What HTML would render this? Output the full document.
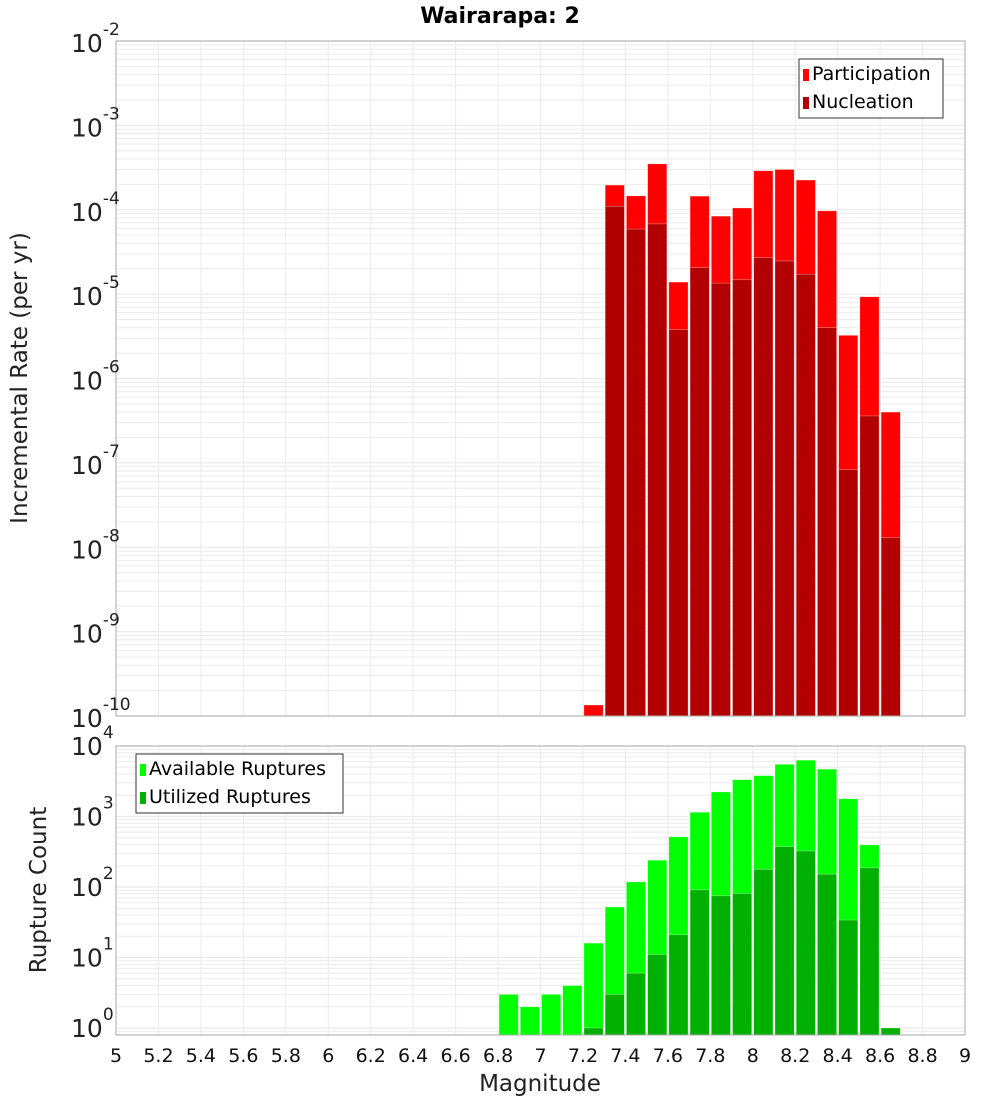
<!DOCTYPE html>
<html><head><meta charset="utf-8"><style>
body{margin:0;background:#fff;font-family:"Liberation Sans","DejaVu Sans",sans-serif}
svg text{font-family:"DejaVu Sans","Liberation Sans",sans-serif}
</style></head><body>
<svg id="c" width="1000" height="1100" xmlns="http://www.w3.org/2000/svg"></svg>
<script>
const topBins=[7.25,7.35,7.45,7.55,7.65,7.75,7.85,7.95,8.05,8.15,8.25,8.35,8.45,8.55,8.65];
const participation=[1.35e-10,1.96e-4,1.46e-4,3.5e-4,1.39e-5,1.45e-4,8.4e-5,1.05e-4,2.9e-4,3.0e-4,2.25e-4,9.7e-5,3.25e-6,9.3e-6,4.0e-7];
const nucleation=[0,1.1e-4,5.9e-5,6.8e-5,3.8e-6,2.06e-5,1.35e-5,1.48e-5,2.7e-5,2.47e-5,1.72e-5,4.0e-6,8.3e-8,3.6e-7,1.3e-8];
const availBins=[6.85,6.95,7.05,7.15,7.25,7.35,7.45,7.55,7.65,7.75,7.85,7.95,8.05,8.15,8.25,8.35,8.45,8.55];
const available=[3,2,3,4,16,52,118,240,515,1150,2230,3330,3800,5500,6300,4700,1780,395];
const utilBins=[7.25,7.35,7.45,7.55,7.65,7.75,7.85,7.95,8.05,8.15,8.25,8.35,8.45,8.55,8.65];
const utilized=[1,3,6,11,21,91,75,81,178,373,324,152,34,187,1];
const xTicks=[5,5.2,5.4,5.6,5.8,6,6.2,6.4,6.6,6.8,7,7.2,7.4,7.6,7.8,8,8.2,8.4,8.6,8.8,9];
const topExp=[-2,-3,-4,-5,-6,-7,-8,-9,-10];
const botExp=[0,1,2,3,4];

const svg=document.getElementById('c');const NS='http://www.w3.org/2000/svg';
function el(t,a,p){const e=document.createElementNS(NS,t);for(const k in a)e.setAttribute(k,a[k]);(p||svg).appendChild(e);return e;}
const L=116,R=965;
const X=v=>L+(v-5)/4*(R-L);
const T0=41,T1=716;const YT=v=>T0+(-2-Math.log10(v))/8*(T1-T0);
const B0=746,B1=1035,BZ=1028;const YB=v=>BZ-Math.log10(v)*70.5;
const BW=(R-L)/40;

function grid(y0,y1,logFn,eMin,eMax){
  for(let e=eMin;e<eMax;e++)for(let m=1;m<10;m++){const y=logFn(m*Math.pow(10,e));if(y>=y0&&y<=y1){const g=el('line',{x1:L,x2:R,y1:y,y2:y,stroke:'#ebebeb','stroke-width':m==1?1.2:1});}}
  xTicks.forEach(t=>{const g=el('line',{x1:X(t),x2:X(t),y1:y0,y2:y1,stroke:'#ebebeb'});});
}
grid(T0,T1,YT,-10,-1);
grid(B0,B1,YB,-1,5);

function bars(bins,vals,fn,color,name){
  bins.forEach((b,i)=>{if(vals[i]<=0)return;const y=fn(vals[i]);const base=name.startsWith('p')||name.startsWith('n')?T1:B1;
    const r=el('rect',{x:X(b)-BW/2+1,y:y,width:BW-2,height:base-y,fill:color,stroke:'#fff','stroke-opacity':0.5,'stroke-width':0.6});
    });
}
bars(topBins,participation,YT,'#ff0000','participation');
bars(topBins,nucleation,YT,'#b20000','nucleation');
bars(availBins,available,YB,'#00ff00','available');
bars(utilBins,utilized,YB,'#00b000','utilized');

let f=el('rect',{x:L,y:T0,width:R-L,height:T1-T0,fill:'none',stroke:'#aaa'});
f=el('rect',{x:L,y:B0,width:R-L,height:B1-B0,fill:'none',stroke:'#aaa'});

topExp.forEach(e=>{const y=YT(Math.pow(10,e));const t=el('text',{x:71,y:y+11,'font-size':25,fill:'#222'});t.textContent='10';const s=el('tspan',{dy:-17,'font-size':17},t);s.textContent=e;});
botExp.forEach(e=>{const y=YB(Math.pow(10,e));const t=el('text',{x:71,y:y+9,'font-size':25,fill:'#222'});t.textContent='10';const s=el('tspan',{dy:-17,'font-size':17},t);s.textContent=e;});
xTicks.forEach(v=>{const t=el('text',{x:X(v),y:1062,'font-size':19,'text-anchor':'middle',fill:'#111'});t.textContent=String(v);});

let t=el('text',{x:500,y:23,'font-size':22,'font-weight':'bold','text-anchor':'middle'});t.textContent='Wairarapa: 2';
t=el('text',{x:540,y:1091,'font-size':23,'text-anchor':'middle',fill:'#222'});t.textContent='Magnitude';
t=el('text',{x:0,y:0,'font-size':23,'text-anchor':'middle',fill:'#222',transform:'translate(27,378) rotate(-90)'});t.textContent='Incremental Rate (per yr)';
t=el('text',{x:0,y:0,'font-size':23,'text-anchor':'middle',fill:'#222',transform:'translate(46,890) rotate(-90)'});t.textContent='Rupture Count';

function legend(x,y,w,items,name){
  const g=el('g',{});
  el('rect',{x:x,y:y,width:w,height:59,fill:'#fff',stroke:'#333'},g);
  items.forEach((it,i)=>{el('rect',{x:x+4,y:y+10+i*28,width:6,height:12,fill:it[1]},g);
    const tx=el('text',{x:x+13,y:y+21+i*28,'font-size':19,fill:'#000'},g);tx.textContent=it[0];});
}
legend(799,59,144,[['Participation','#ff0000'],['Nucleation','#b20000']],'top-legend');
legend(136,754,207,[['Available Ruptures','#00ff00'],['Utilized Ruptures','#00b000']],'bottom-legend');
</script>
</body></html>
